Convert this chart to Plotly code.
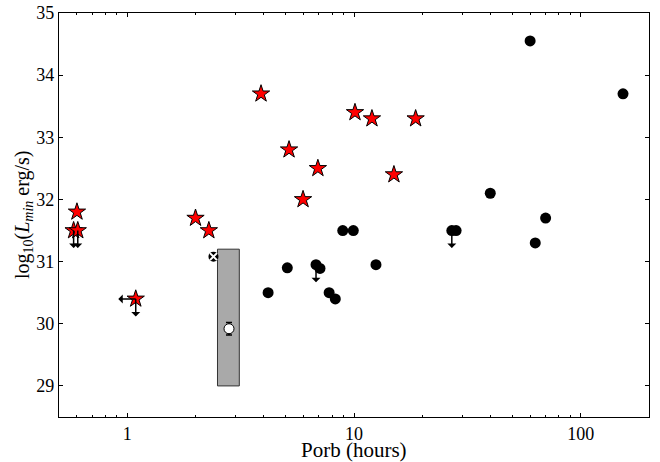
import math
import plotly.graph_objects as go

# ---- data ----
star_p = [0.6, 0.58, 0.605, 1.09, 2.0, 2.29, 3.89, 5.17, 5.96, 6.93, 10.1, 12.0, 15.0, 18.7]
star_l = [31.8, 31.5, 31.5, 30.4, 31.7, 31.5, 33.7, 32.8, 32.0, 32.5, 33.4, 33.3, 32.4, 33.3]
star_uplim = [False, True, True, True, False, False, False, False, False, False, False, False, False, False]
star_xuplim = [False, False, False, True, False, False, False, False, False, False, False, False, False, False]

circ_p = [4.18, 5.08, 6.8, 7.08, 7.77, 8.27, 8.92, 9.93, 12.5, 27.0, 28.2, 39.9, 59.8, 63.0, 70.0, 153.6]
circ_l = [30.5, 30.9, 30.95, 30.89, 30.5, 30.4, 31.5, 31.5, 30.95, 31.5, 31.5, 32.1, 34.55, 31.3, 31.7, 33.7]
circ_uplim = [False, False, True, False, False, False, False, False, False, True, False, False, False, False, False, False]

cross_p = [2.4]
cross_l = [31.08]

open_p = [2.81]
open_l = [29.92]
open_err = [0.1]

rect_p = [2.5, 3.12]
rect_l = [29.0, 31.2]

x_major = [1, 10, 100]
x_minor = [0.5, 0.6, 0.7, 0.8, 0.9, 2, 3, 4, 5, 6, 7, 8, 9,
           20, 30, 40, 50, 60, 70, 80, 90, 200]
y_ticks = [29, 30, 31, 32, 33, 34, 35]

FONT = "Liberation Serif"

fig = go.Figure()

# gray box
fig.add_trace(go.Scatter(
    x=[rect_p[0], rect_p[1], rect_p[1], rect_p[0], rect_p[0]],
    y=[rect_l[0], rect_l[0], rect_l[1], rect_l[1], rect_l[0]],
    mode="lines", fill="toself", fillcolor="#a9a9a9",
    line=dict(color="#333333", width=1), showlegend=False, hoverinfo="skip"))

# black circles
fig.add_trace(go.Scatter(
    x=circ_p, y=circ_l, mode="markers",
    marker=dict(symbol="circle", size=11, color="black", line=dict(width=0)),
    showlegend=False))

# crossed circle
fig.add_trace(go.Scatter(
    x=cross_p, y=cross_l, mode="markers",
    marker=dict(symbol="circle", size=10, color="black", line=dict(width=0)),
    showlegend=False))
fig.add_trace(go.Scatter(
    x=cross_p, y=cross_l, mode="markers",
    marker=dict(symbol="x-thin", size=7, color="white", line=dict(color="white", width=2)),
    showlegend=False))

# open circle with error bar
fig.add_trace(go.Scatter(
    x=open_p, y=open_l, mode="markers",
    error_y=dict(type="data", array=open_err, color="black", thickness=1.5, width=3),
    marker=dict(symbol="circle", size=10, color="white", line=dict(color="black", width=1)),
    showlegend=False))

# red stars
fig.add_trace(go.Scatter(
    x=star_p, y=star_l, mode="markers",
    marker=dict(symbol="star", size=13, color="#ff0000", line=dict(color="black", width=1)),
    showlegend=False))

# upper-limit arrows
def add_arrow(x, y, ax, ay):
    fig.add_annotation(x=x, y=y, xref="x", yref="y", ax=ax, ay=ay,
                       text="", showarrow=True, arrowside="start",
                       arrowhead=2, arrowsize=1.1, arrowwidth=1.5,
                       arrowcolor="black", standoff=0, startstandoff=0)

for p, l, u, xu in zip(star_p, star_l, star_uplim, star_xuplim):
    if u:
        add_arrow(math.log10(p), l, 0, 19)
    if xu:
        add_arrow(math.log10(p), l, -19, 0)
for p, l, u in zip(circ_p, circ_l, circ_uplim):
    if u:
        add_arrow(math.log10(p), l, 0, 19)

# axis titles
fig.add_annotation(text="Porb (hours)", xref="paper", yref="paper",
                   x=0.5, y=0, yshift=-33, yanchor="middle", showarrow=False,
                   font=dict(family=FONT, size=21))
fig.add_annotation(text="log<sub>10</sub>(<i>L</i><sub><i>min</i></sub> erg/s)",
                   xref="paper", yref="paper", x=0, y=0.5, xshift=-36,
                   xanchor="center", yanchor="middle", textangle=-90, showarrow=False,
                   font=dict(family=FONT, size=20))

fig.update_layout(
    width=660, height=462,
    margin=dict(l=59, r=11, t=13, b=45),
    paper_bgcolor="white", plot_bgcolor="white",
    font=dict(family=FONT, size=16, color="black"),
    xaxis=dict(
        type="log", range=[math.log10(0.5), math.log10(200)], automargin=False,
        tickvals=x_major, ticktext=[str(v) for v in x_major],
        ticks="inside", ticklen=4, tickwidth=1, tickcolor="black",
        minor=dict(tickvals=x_minor, ticks="inside", ticklen=2, tickwidth=1, tickcolor="black"),
        showline=True, linecolor="black", linewidth=1.2, mirror="ticks",
        showgrid=False, zeroline=False,
        tickfont=dict(family=FONT, size=18),
    ),
    yaxis=dict(
        range=[28.5, 35], tickvals=y_ticks, automargin=False,
        ticks="inside", ticklen=4, tickwidth=1, tickcolor="black",
        showline=True, linecolor="black", linewidth=1.2, mirror="ticks",
        showgrid=False, zeroline=False,
        tickfont=dict(family=FONT, size=18),
    ),
)

# remove the browser's default body margin so the figure fills the window
fig.write_html("out.html", config={"displayModeBar": False},
               post_script="document.body.style.margin='0';document.body.style.overflow='hidden';")
